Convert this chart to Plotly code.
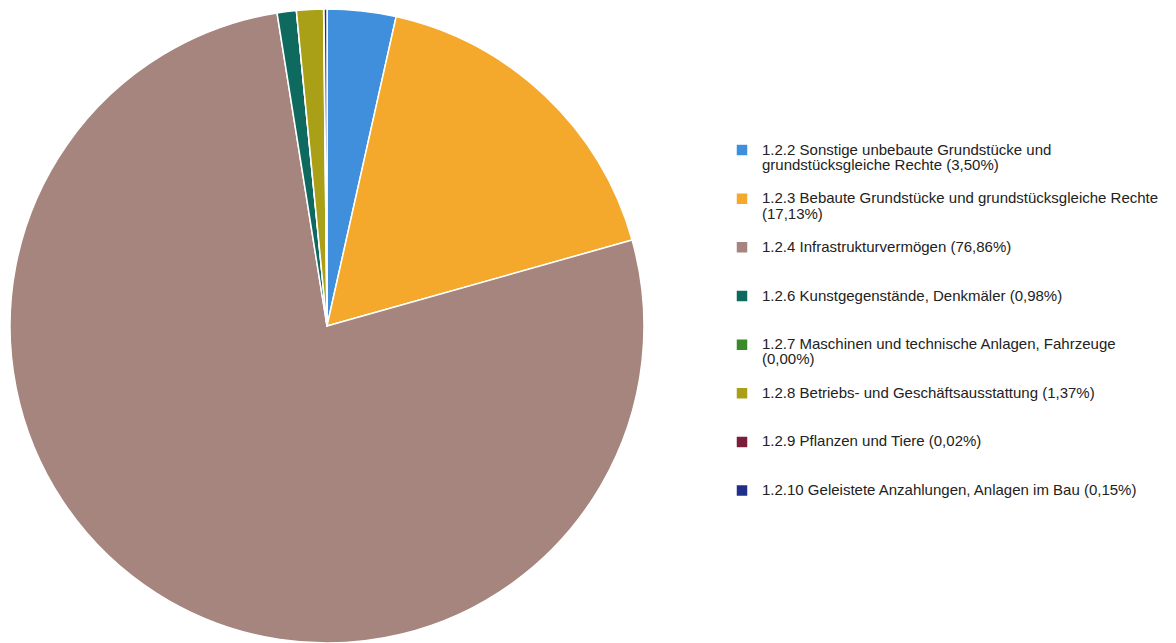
import plotly.graph_objects as go

# Anteile am Sachanlagevermögen (in %)
labels = [
    "1.2.2 Sonstige unbebaute Grundstücke und<br>grundstücksgleiche Rechte (3,50%)",
    "1.2.3 Bebaute Grundstücke und grundstücksgleiche Rechte<br>(17,13%)",
    "1.2.4 Infrastrukturvermögen (76,86%)",
    "1.2.6 Kunstgegenstände, Denkmäler (0,98%)",
    "1.2.7 Maschinen und technische Anlagen, Fahrzeuge<br>(0,00%)",
    "1.2.8 Betriebs- und Geschäftsausstattung (1,37%)",
    "1.2.9 Pflanzen und Tiere (0,02%)",
    "1.2.10 Geleistete Anzahlungen, Anlagen im Bau (0,15%)",
]
values = [3.50, 17.13, 76.86, 0.98, 0.00, 1.37, 0.02, 0.15]
colors = ["#3f8fdc", "#f4a82c", "#a5857d", "#0e6a5f",
          "#3a8a2a", "#a9a018", "#7a1f3a", "#1f2f8a"]

W, H = 1176, 643


def pad(label):
    # every legend entry gets three text lines so the entries are evenly spaced
    n = label.count("<br>") + 1
    body = label + "<br>&nbsp;" * (3 - n)
    return '<span style="font-size:15px">' + body + "</span>"


fig = go.Figure(
    go.Pie(
        labels=[pad(l) for l in labels],
        values=values,
        marker=dict(colors=colors, line=dict(color="white", width=1.5)),
        sort=False,
        direction="clockwise",
        rotation=0,
        textinfo="none",
        hoverinfo="label+percent",
        domain=dict(x=[10 / W, 644 / W], y=[0, 634 / H]),
    )
)

fig.update_layout(
    width=W,
    height=H,
    margin=dict(l=0, r=0, t=0, b=0),
    paper_bgcolor="white",
    plot_bgcolor="white",
    font=dict(family="Liberation Sans, Arial, sans-serif", color="#222222"),
    legend=dict(
        x=722 / W,
        y=1 - 136 / H,
        xanchor="left",
        yanchor="top",
        valign="top",
        font=dict(size=11.7, color="#222222"),
        itemwidth=30,
        bgcolor="rgba(0,0,0,0)",
    ),
    showlegend=True,
)

fig.write_html("out.html")
